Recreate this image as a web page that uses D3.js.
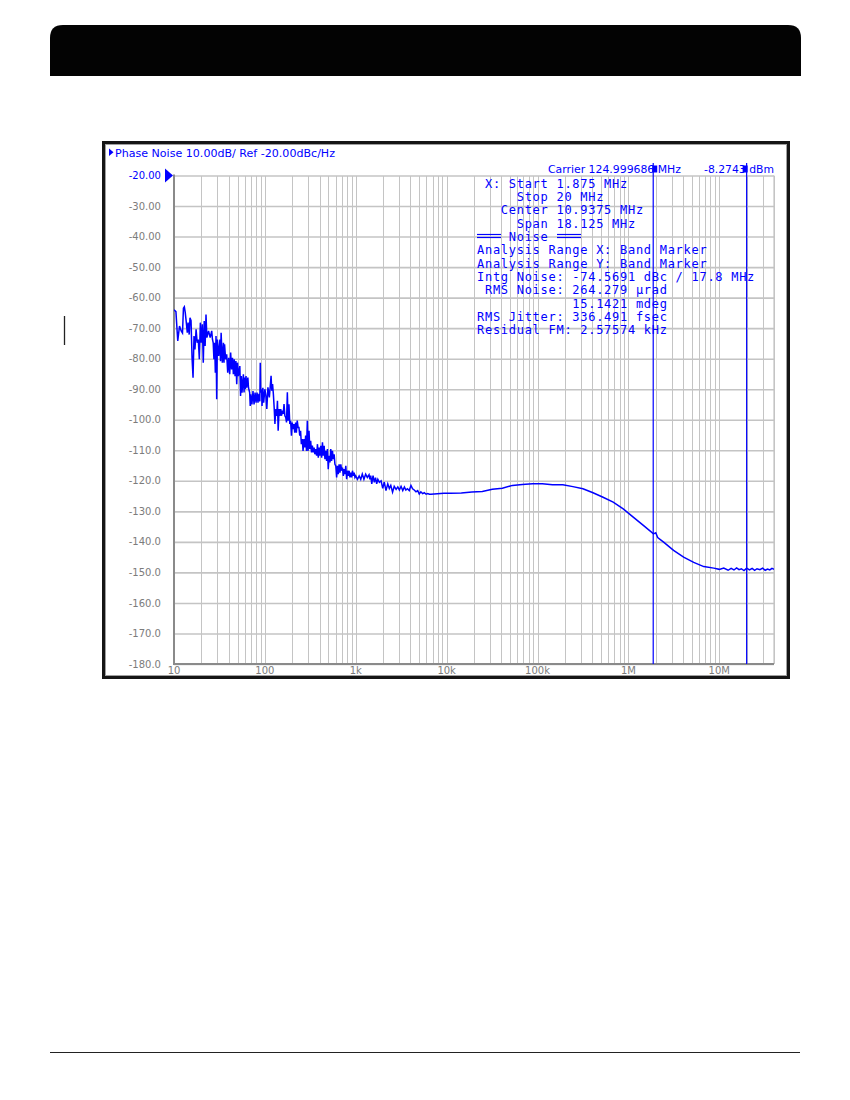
<!DOCTYPE html>
<html>
<head>
<meta charset="utf-8">
<script src="https://cdn.jsdelivr.net/npm/d3@7"></script>
<style>
  body { margin: 0; background: #fff; }
  svg { display: block; }
</style>
</head>
<body>
<script>
// phase noise trace (Hz, dBc/Hz)
const closeInFreq = [10, 10.5, 11, 11.5, 12, 12.4, 12.7, 13, 13.3, 13.7, 14, 14.3, 14.7, 15, 15.4, 15.8, 16.2, 16.6, 17, 17.5,
  18, 18.5, 19, 19.5, 20, 20.5, 21, 21.5, 22, 22.5, 23, 24, 25, 26, 26.5, 27, 27.5, 28, 28.5, 29,
  29.5, 30, 31, 32, 32.5, 33, 34, 35, 35.5, 36, 37, 38, 39, 40, 41, 42, 43, 44, 45, 46,
  47, 48, 49, 50, 51, 53, 54, 55, 56, 58, 59, 60, 61, 62, 63, 65, 66, 68, 69, 70,
  72, 74, 76, 78, 80, 82, 84, 86, 88, 89, 90, 92, 93, 95, 97, 100];
const closeInDb = [-64.0, -64.6, -74.2, -69.3, -70.9, -71.6, -63.5, -63.0, -64.9, -68.5, -71.5, -68.2, -72.1, -66.6, -67.5, -79.7, -86.2, -72.6, -77.0, -70.4,
  -74.8, -73.7, -80.2, -68.2, -74.8, -68.7, -81.3, -67.7, -75.8, -65.5, -73.1, -70.9, -73.1, -70.9, -73.7, -74.8, -80.2, -74.8, -84.6, -72.6,
  -93.3, -73.7, -79.1, -73.7, -80.8, -71.5, -81.3, -74.8, -81.3, -75.3, -80.2, -78.6, -84.6, -79.7, -85.1, -78.0, -83.5, -79.7, -85.1, -80.2,
  -85.7, -80.8, -88.4, -81.3, -85.7, -82.4, -92.2, -85.7, -91.1, -85.1, -91.1, -86.2, -90.0, -85.7, -89.5, -86.2, -89.5, -91.1, -95.5, -91.7,
  -95.0, -90.6, -95.0, -91.1, -94.4, -91.1, -94.4, -91.5, -94.0, -81.3, -91.1, -90.0, -95.5, -89.5, -94.4, -90.0];

const slopeFreq = [102.6, 105, 108, 112, 117, 119, 121.5, 124, 126.5, 129, 132, 135, 137.5, 140, 143.5, 146, 149.5, 152, 155.7, 159,
  162.5, 166, 169.6, 173, 176.7, 180, 184, 188, 192, 196, 200, 204, 209, 213, 218, 222, 227, 232, 237, 242,
  247, 252, 258, 263, 269, 275, 281, 287, 293, 299, 306, 312, 319, 326, 333, 340, 348, 355, 363, 371,
  379, 387, 395, 403, 412, 421, 430, 439, 449, 458, 468, 478, 488, 498, 509, 520, 531, 542, 554, 566,
  578, 590, 603, 616, 629, 642, 656, 670, 685, 700, 714, 730, 745, 761, 777, 794, 811, 828, 845, 863,
  882, 901, 920, 940, 960, 980, 1000, 1045, 1090, 1135, 1180, 1230, 1285, 1340];
const slopeDb = [-92.1, -96.5, -89.4, -92.7, -85.6, -90.5, -88.3, -91.6, -96.0, -101.4, -96.5, -98.7, -93.8, -103.6, -96.5, -98.7, -96.5, -98.7, -97.0, -98.1,
  -94.9, -98.7, -99.2, -100.9, -91.0, -100.3, -94.9, -101.4, -100.3, -105.2, -100.9, -103.1, -101.4, -104.2, -100.9, -104.2, -100.3, -102.5, -102.5, -105.2,
  -103.6, -108.0, -106.3, -110.2, -106.3, -109.1, -105.2, -110.2, -100.3, -110.2, -103.6, -109.6, -106.9, -110.7, -108.5, -110.7, -109.1, -111.3, -109.6, -111.8,
  -108.0, -112.4, -109.1, -111.8, -108.5, -112.4, -107.4, -111.8, -108.5, -112.9, -110.2, -113.5, -109.6, -116.2, -111.8, -114.0, -109.6, -113.5, -110.2, -112.9,
  -111.3, -114.6, -115.1, -118.9, -115.1, -117.8, -114.6, -117.3, -114.6, -116.7, -115.7, -118.4, -116.2, -117.8, -115.1, -119.5, -116.7, -118.4, -116.7, -118.9,
  -117.3, -118.9, -116.7, -118.4, -117.3, -118.9, -118.4, -119.5, -118.4, -119.5, -117.8, -119.5, -117.8, -118.9];

const plateauFreq = [1400, 1430, 1460, 1500, 1550, 1600, 1650, 1700, 1750, 1820, 1900, 1980, 2060, 2150, 2250, 2340, 2430, 2540, 2650, 2780,
  2900, 3020, 3150, 3290, 3430, 3560, 3700, 3880, 4050, 4220, 4400, 4600, 4800, 5000, 5200, 5440, 5680, 5940, 6200, 6450,
  6700, 7900, 9330, 11000, 14500, 18950, 24700, 31800, 41000, 53000, 68000, 88000, 113000, 146000, 190000, 245000, 316000, 408000, 526000, 680000,
  877000, 1130000, 1460000, 1890000, 2000000, 2100000, 2440000, 3140000, 4050000, 5230000, 6750000, 8700000];
const plateauDb = [-118.0, -119.5, -118.3, -121.0, -118.3, -120.5, -119.0, -121.0, -119.5, -120.5, -120.0, -122.5, -120.4, -123.2, -121.0, -122.5, -121.5, -123.7, -121.8, -122.8,
  -122.0, -123.0, -121.8, -123.2, -122.0, -123.0, -122.6, -123.2, -121.5, -122.6, -123.0, -123.6, -123.2, -124.3, -123.6, -124.2, -123.9, -124.4, -124.2, -124.4,
  -124.4, -124.2, -124.1, -124.1, -124.0, -123.7, -123.5, -122.8, -122.4, -121.5, -121.2, -121.0, -121.0, -121.3, -121.3, -121.9, -122.6, -123.9, -125.4, -127.0,
  -129.2, -131.9, -134.6, -137.4, -137.0, -138.6, -140.1, -142.8, -145.0, -146.7, -148.1, -148.6];

const floorFreq = [10e6, 11.2e6, 12.5e6, 13.5e6, 14.5e6, 15.5e6, 16.5e6, 17.5e6, 18.7e6, 20e6, 21.5e6, 23e6, 24.5e6, 26e6, 28e6, 30e6, 32e6, 34e6, 36e6, 38e6, 40e6];
const floorDb = [-149.0, -148.6, -149.3, -148.7, -149.2, -148.5, -149.1, -148.8, -149.4, -148.6, -149.2, -148.7, -149.3, -148.8, -149.1, -148.6, -149.3, -148.9, -149.2, -148.7, -149.0];

const yTicks = [-20, -30, -40, -50, -60, -70, -80, -90, -100, -110, -120, -130, -140, -150, -160, -170, -180];
const xLabelValues = [1e1, 1e2, 1e3, 1e4, 1e5, 1e6, 1e7];
const xLabelText = ["10", "100", "1k", "10k", "100k", "1M", "10M"];
const bandMarkers = [1.875e6, 20e6];

const headerText = "Phase Noise 10.00dB/ Ref -20.00dBc/Hz";
const carrierText = "Carrier 124.999686 MHz";
const carrierPower = "-8.2743 dBm";
const infoLines = [
  " X: Start 1.875 MHz",
  "     Stop 20 MHz",
  "   Center 10.9375 MHz",
  "     Span 18.125 MHz",
  "    Noise",
  "Analysis Range X: Band Marker",
  "Analysis Range Y: Band Marker",
  "Intg Noise: -74.5691 dBc / 17.8 MHz",
  " RMS Noise: 264.279 \u00b5rad",
  "            15.1421 mdeg",
  "RMS Jitter: 336.491 fsec",
  "Residual FM: 2.57574 kHz"
];

const BLUE = "#0000ff";
const GRID = "#c4c4c4";
const LABEL = "#7c7c7c";

const svg = d3.select("body").append("svg")
  .attr("width", 850).attr("height", 1100);

// page decoration: black header bar, footer rule, change bar
svg.append("path")
  .attr("d", "M50,76 V38 Q50,25 63,25 H788 Q801,25 801,38 V76 Z")
  .attr("fill", "#030303");
svg.append("line").attr("x1", 50).attr("x2", 800).attr("y1", 1052.5).attr("y2", 1052.5)
  .attr("stroke", "#222").attr("stroke-width", 1);
svg.append("line").attr("x1", 64.5).attr("x2", 64.5).attr("y1", 316).attr("y2", 345)
  .attr("stroke", "#222").attr("stroke-width", 1.3);

// screenshot frame
svg.append("rect").attr("x", 103.5).attr("y", 142.5).attr("width", 685).attr("height", 535)
  .attr("fill", "#fff").attr("stroke", "#151515").attr("stroke-width", 3);
svg.append("rect").attr("x", 105.5).attr("y", 144.5).attr("width", 681).attr("height", 531)
  .attr("fill", "none").attr("stroke", "#a0a0a0").attr("stroke-width", 1);

const plotLeft = 174, plotRight = 774, plotTop = 175.5, plotBottom = 664;
const x = d3.scaleLog().domain([10, 40e6]).range([plotLeft, plotRight]);
const y = d3.scaleLinear().domain([-180, -20]).range([plotBottom, plotTop]);

const plot = svg.append("g");

// vertical log grid
plot.append("g")
  .attr("transform", `translate(0,${plotBottom})`)
  .call(d3.axisBottom(x).ticks(80).tickSize(-(plotBottom - plotTop)).tickFormat(""))
  .call(g => g.select(".domain").remove())
  .call(g => g.selectAll("line").attr("stroke", GRID).attr("stroke-width", 1).attr("shape-rendering", "crispEdges"));

// horizontal grid
plot.append("g")
  .attr("transform", `translate(${plotLeft},0)`)
  .call(d3.axisLeft(y).tickValues(yTicks).tickSize(-(plotRight - plotLeft)).tickFormat(""))
  .call(g => g.select(".domain").remove())
  .call(g => g.selectAll("line").attr("stroke", GRID).attr("stroke-width", 1.6));

plot.append("line").attr("x1", plotRight).attr("x2", plotRight).attr("y1", plotTop).attr("y2", plotBottom)
  .attr("stroke", GRID).attr("stroke-width", 1.2);
// axis lines
plot.append("line").attr("x1", plotLeft).attr("x2", plotLeft).attr("y1", plotTop - 1).attr("y2", plotBottom + 1)
  .attr("stroke", "#8a8a8a").attr("stroke-width", 2);
plot.append("line").attr("x1", plotLeft).attr("x2", plotRight).attr("y1", plotBottom).attr("y2", plotBottom)
  .attr("stroke", "#8a8a8a").attr("stroke-width", 2);

// y labels
svg.append("g").selectAll("text").data(yTicks).join("text")
  .attr("x", 161).attr("y", d => y(d) + 3.6)
  .attr("text-anchor", "end")
  .attr("font-family", "DejaVu Sans, sans-serif").attr("font-size", 10)
  .attr("fill", d => d === -20 ? BLUE : LABEL)
  .text(d => d > -100 ? d.toFixed(2) : d.toFixed(1));

// reference level marker
svg.append("path")
  .attr("d", d3.line()([[165, y(-20) - 7], [173, y(-20)], [165, y(-20) + 7]]) + "Z")
  .attr("fill", BLUE);

// x labels
svg.append("g").selectAll("text").data(xLabelValues).join("text")
  .attr("x", d => x(d)).attr("y", 674)
  .attr("text-anchor", "middle")
  .attr("font-family", "DejaVu Sans, sans-serif").attr("font-size", 10)
  .attr("fill", LABEL)
  .text((d, i) => xLabelText[i]);

// header line
svg.append("path").attr("d", "M109,148.5 L113.5,152.3 L109,156 Z").attr("fill", BLUE);
svg.append("text").attr("x", 115).attr("y", 156.5)
  .attr("font-family", "DejaVu Sans, sans-serif").attr("font-size", 10.5)
  .attr("textLength", 220).attr("lengthAdjust", "spacingAndGlyphs")
  .attr("fill", BLUE).text(headerText);

svg.append("text").attr("x", 548).attr("y", 172.5)
  .attr("font-family", "DejaVu Sans, sans-serif").attr("font-size", 10)
  .attr("textLength", 133).attr("lengthAdjust", "spacingAndGlyphs")
  .attr("fill", BLUE).text(carrierText);
svg.append("text").attr("x", 704).attr("y", 172.5)
  .attr("font-family", "DejaVu Sans, sans-serif").attr("font-size", 10)
  .attr("textLength", 70).attr("lengthAdjust", "spacingAndGlyphs")
  .attr("fill", BLUE).text(carrierPower);

// band markers
svg.append("g").selectAll("line").data(bandMarkers).join("line")
  .attr("x1", d => x(d)).attr("x2", d => x(d))
  .attr("y1", 163).attr("y2", plotBottom)
  .attr("stroke", BLUE).attr("stroke-width", 1.2);
svg.append("rect").attr("x", x(bandMarkers[0]) - 1).attr("y", 165.5).attr("width", 5).attr("height", 7).attr("fill", BLUE);
svg.append("rect").attr("x", x(bandMarkers[1]) - 4).attr("y", 165.5).attr("width", 5).attr("height", 7).attr("fill", BLUE);

// trace
const trace = [
  ...closeInFreq.map((f, i) => [f, closeInDb[i]]),
  ...slopeFreq.map((f, i) => [f, slopeDb[i]]),
  ...plateauFreq.map((f, i) => [f, plateauDb[i]]),
  ...floorFreq.map((f, i) => [f, floorDb[i]])
];
svg.append("clipPath").attr("id", "plotClip")
  .append("rect").attr("x", plotLeft).attr("y", plotTop).attr("width", plotRight - plotLeft).attr("height", plotBottom - plotTop);
svg.append("path")
  .datum(trace)
  .attr("clip-path", "url(#plotClip)")
  .attr("fill", "none")
  .attr("stroke", BLUE)
  .attr("stroke-width", 1.5)
  .attr("stroke-linejoin", "miter")
  .attr("d", d3.line().x(d => x(d[0])).y(d => y(d[1])));

// marker readout text block
const info = svg.append("g")
  .attr("font-family", "DejaVu Sans Mono, monospace")
  .attr("font-size", 12)
  .attr("letter-spacing", "0.72px")
  .attr("fill", BLUE);
info.selectAll("text").data(infoLines).join("text")
  .attr("x", 477)
  .attr("y", (d, i) => 187.7 + i * 13.33)
  .attr("xml:space", "preserve")
  .style("white-space", "pre")
  .text(d => d);
// double rules around "Noise"
[[477, 501], [557, 581]].forEach(([a, b]) => {
  [234.5, 237.5].forEach(yy => {
    info.append("line").attr("x1", a).attr("x2", b).attr("y1", yy).attr("y2", yy)
      .attr("stroke", BLUE).attr("stroke-width", 1.2);
  });
});
</script>
</body>
</html>
